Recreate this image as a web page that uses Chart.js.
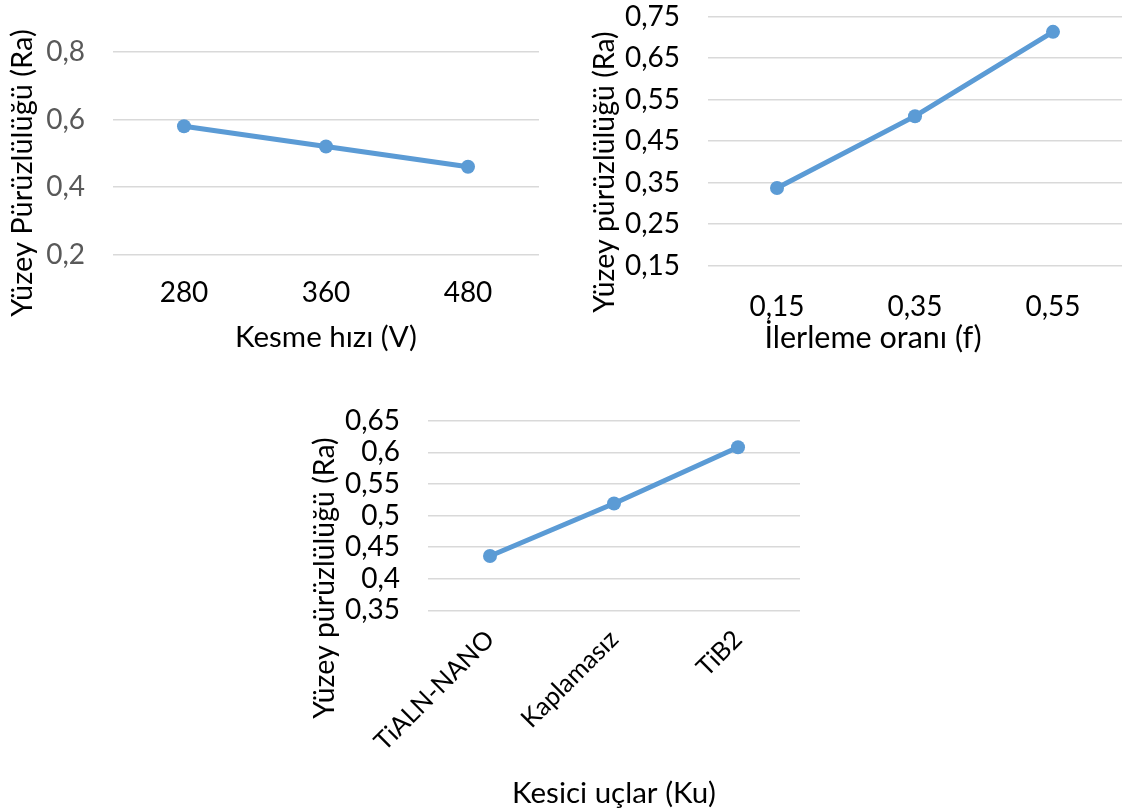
<!DOCTYPE html>
<html lang="tr">
<head>
<meta charset="UTF-8">
<title>Yüzey pürüzlülüğü</title>
<script src="https://cdn.jsdelivr.net/npm/chart.js"></script>
<style>
    body { margin: 0; width: 1123px; height: 811px; background: #fff; position: relative; overflow: hidden; }
    .box { position: absolute; }
</style>
</head>
<body>

<!-- Kesme hızı -->
<div class="box" style="left:0;top:0;width:560px;height:360px"><canvas id="chartV"></canvas></div>
<!-- İlerleme oranı -->
<div class="box" style="left:560px;top:0;width:563px;height:360px"><canvas id="chartF"></canvas></div>
<!-- Kesici uçlar -->
<div class="box" style="left:290px;top:380px;width:520px;height:431px"><canvas id="chartKu"></canvas></div>

<script>
    // veriler
    const hizLabels = ['280', '360', '480'];
    const hizValues = [0.58, 0.52, 0.46];
    const hizYTicks = [0.2, 0.4, 0.6, 0.8];

    const ilerlemeLabels = ['0,15', '0,35', '0,55'];
    const ilerlemeValues = [0.337, 0.51, 0.713];
    const ilerlemeYTicks = [0.15, 0.25, 0.35, 0.45, 0.55, 0.65, 0.75];

    const ucLabels = ['TiALN-NANO', 'Kaplamasız', 'TiB2'];
    const ucValues = [0.436, 0.519, 0.608];
    const ucYTicks = [0.35, 0.4, 0.45, 0.5, 0.55, 0.6, 0.65];

    const FONT = 'Lato, Carlito, Calibri, sans-serif';
    const BLUE = '#5B9BD5';

    // eksen başlıklarını Excel'deki yerlerine çizer
    const axisTitles = {
        id: 'axisTitles',
        afterDraw(chart, args, opts) {
            const ctx = chart.ctx;
            ctx.save();
            ctx.fillStyle = '#000';
            ctx.textAlign = 'center';
            ctx.textBaseline = 'middle';
            ctx.font = opts.x.size + 'px ' + FONT;
            ctx.fillText(opts.x.text, opts.x.cx, opts.x.cy);
            ctx.font = opts.y.size + 'px ' + FONT;
            ctx.translate(opts.y.cx, opts.y.cy);
            ctx.rotate(-Math.PI / 2);
            ctx.fillText(opts.y.text, 0, 0);
            ctx.restore();
        }
    };

    function fmt(v) {
        return String(+v.toFixed(2)).replace('.', ',');
    }

    function drawChart(id, labels, values, yTicks, s) {
        const ctx = document.getElementById(id).getContext('2d');
        return new Chart(ctx, {
            type: 'line',
            data: {
                labels: labels,
                datasets: [{
                    data: values,
                    borderColor: BLUE,
                    backgroundColor: BLUE,
                    borderWidth: 5,
                    pointRadius: 7,
                    pointBorderWidth: 0,
                    tension: 0
                }]
            },
            options: {
                responsive: true,
                maintainAspectRatio: false,
                animation: false,
                layout: { padding: s.padding, autoPadding: false },
                plugins: {
                    legend: { display: false },
                    tooltip: { enabled: false },
                    axisTitles: { x: s.xTitle, y: s.yTitle }
                },
                scales: {
                    x: {
                        offset: true,
                        grid: { display: false, drawTicks: false },
                        border: { display: false },
                        ticks: {
                            color: '#000',
                            font: { family: FONT, size: s.xFont },
                            padding: s.xPad,
                            autoSkip: false,
                            minRotation: s.rot,
                            maxRotation: s.rot
                        },
                        afterFit: sc => {
                            sc.height = s.xHeight;
                            sc.paddingLeft = 0;
                            sc.paddingRight = 0;
                        }
                    },
                    y: {
                        min: yTicks[0],
                        max: yTicks[yTicks.length - 1],
                        grid: { color: '#d9d9d9', lineWidth: 1.5, drawTicks: false },
                        border: { display: false },
                        ticks: {
                            stepSize: yTicks[1] - yTicks[0],
                            autoSkip: false,
                            color: s.yColor,
                            font: { family: FONT, size: 28 },
                            padding: 28,
                            callback: v => fmt(v)
                        },
                        afterFit: sc => {
                            sc.width = s.yWidth;
                            sc.paddingTop = 0;
                            sc.paddingBottom = 0;
                        }
                    }
                }
            },
            plugins: [axisTitles]
        });
    }

    drawChart('chartV', hizLabels, hizValues, hizYTicks, {
        padding: { top: 52, right: 21, left: 0, bottom: 0 },
        yWidth: 113, xHeight: 105.5, xPad: 22, xFont: 28, rot: 0, yColor: '#595959',
        xTitle: { text: 'Kesme hızı (V)', cx: 326, cy: 337, size: 29.5 },
        yTitle: { text: 'Yüzey Pürüzlülüğü (Ra)', cx: 23, cy: 173, size: 29 }
    });

    drawChart('chartF', ilerlemeLabels, ilerlemeValues, ilerlemeYTicks, {
        padding: { top: 16.5, right: 1, left: 0, bottom: 0 },
        yWidth: 148, xHeight: 94.3, xPad: 24, xFont: 28, rot: 0, yColor: '#000',
        xTitle: { text: 'İlerleme oranı (f)', cx: 313, cy: 338, size: 30.5 },
        yTitle: { text: 'Yüzey pürüzlülüğü (Ra)', cx: 45, cy: 172, size: 28.5 }
    });

    drawChart('chartKu', ucLabels, ucValues, ucYTicks, {
        padding: { top: 40.7, right: 10, left: 0, bottom: 0 },
        yWidth: 138, xHeight: 200.7, xPad: 14, xFont: 25.5, rot: 45, yColor: '#000',
        xTitle: { text: 'Kesici uçlar (Ku)', cx: 324, cy: 413, size: 29.5 },
        yTitle: { text: 'Yüzey pürüzlülüğü (Ra)', cx: 35, cy: 198, size: 28.5 }
    });
</script>
</body>
</html>
